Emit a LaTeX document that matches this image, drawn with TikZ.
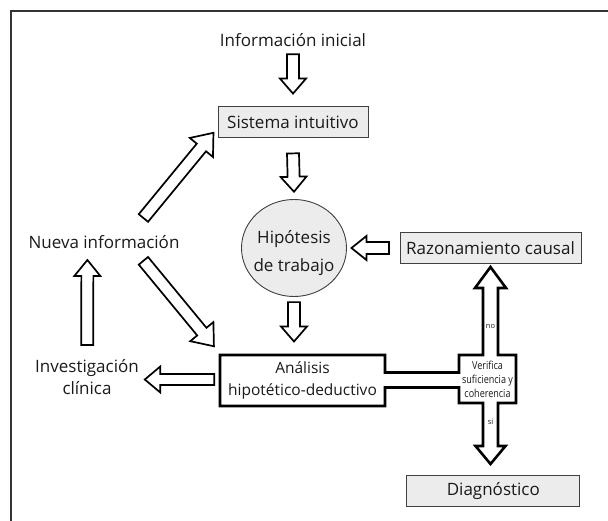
\documentclass[tikz,border=0pt]{standalone}
\usepackage{fontspec}
\setmainfont{Open Sans}
\usetikzlibrary{calc,shapes.geometric}
\definecolor{boxfill}{HTML}{ECECEC}
\definecolor{txt}{HTML}{1A1A1A}
\newcommand\fsz[2]{\fontsize{#1}{#2}\selectfont}
% hollow block arrow: #1 start, #2 end, #3 half shaft, #4 half head, #5 head length
\newcommand\barrow[5]{%
  \path let \p1=(#1), \p2=(#2),
    \n1={atan2(\y2-\y1,\x2-\x1)}, \n2={veclen(\x2-\x1,\y2-\y1)} in
    \pgfextra{\xdef\baang{\n1}\xdef\balen{\n2}\xdef\bax{\x1}\xdef\bay{\y1}};
  \draw[blk,shift={(\bax,\bay)},rotate=\baang]
    (0pt,-#3pt) -- (\balen-#5pt,-#3pt) -- (\balen-#5pt,-#4pt) -- (\balen,0pt)
    -- (\balen-#5pt,#4pt) -- (\balen-#5pt,#3pt) -- (0pt,#3pt) -- cycle;}
\tikzset{
  blk/.style={draw=black, line width=1.7pt, fill=white, line join=miter},
  graybox/.style={draw=black!75, line width=0.9pt, fill=boxfill, inner sep=0pt,
    minimum height=30.5pt, text=txt, font=\fsz{17}{20}},
  label/.style={text=txt, font=\fsz{17}{22}, align=center, inner sep=0pt},
  tiny/.style={text=txt, font=\fsz{7.5}{8}, inner sep=0pt},
}
\begin{document}
\begin{tikzpicture}[x=1pt,y=-1pt]
\useasboundingbox (0,0) rectangle (608,521);
\fill[white] (0,0) rectangle (608,521);
% frame (top and left sides)
\draw[black!80, line width=1.3pt] (11,521) -- (11,11) -- (608,11);

% nodes
\node[label] (info) at (293,40) {Información inicial};
\node[graybox, minimum width=150pt] (sis) at (293,122) {Sistema intuitivo};
\node[ellipse, draw=black!75, line width=0.9pt, fill=boxfill, minimum width=105pt,
  minimum height=97pt, inner sep=0pt] (hyp) at (294,248) {};
\node[label, font=\fsz{17}{28}] (hyptxt) at (294,253) {Hipótesis\\de trabajo};
\node[graybox, minimum width=181pt] (raz) at (490.5,248) {Razonamiento causal};
\node[graybox, minimum width=173pt, minimum height=31.5pt] (diag) at (493.3,490.8) {Diagnóstico};
\node[label] (nueva) at (104,241.7) {Nueva información};
\node[label] (inv) at (87,377.5) {Investigación\\clínica};

% composite outline: Análisis box + channel + Verifica box + no/si arrows
\draw[black, line width=2.6pt, fill=white, line join=miter]
  (220,355) -- (385,355) -- (385,372.5) -- (459,372.5) -- (459,355)
  -- (483,355) -- (483,288) -- (475,288) -- (490.5,267) -- (506,288) -- (498,288)
  -- (498,355) -- (516,355) -- (516,403) -- (498,403) -- (498,446) -- (505.5,446)
  -- (490.5,464) -- (475.5,446) -- (483,446) -- (483,403) -- (459,403)
  -- (459,387.5) -- (385,387.5) -- (385,406) -- (220,406) -- cycle;
\node[label, font=\fsz{15.5}{22}, minimum width=165pt, minimum height=51pt] (ana) at (302.5,380.5)
  {Análisis\\hipotético-deductivo};
\node[text=txt, font=\fsz{11}{14}, align=center, inner sep=0pt, xscale=0.82] (ver) at (487.5,379.5)
  {Verifica\\suficiencia y\\coherencia};
\node[tiny] (no) at (490.5,326.7) {no};
\node[tiny] (si) at (490.5,421.7) {si};

% block arrows
\barrow{$(sis.north)+(0,-52)$}{$(sis.north)+(0,-12.7)$}{6}{13}{15}
\barrow{$(sis.south)+(0,15.7)$}{$(hyp.north)+(0,-7.3)$}{6}{13}{15}
\barrow{$(hyp.south)+(0,5.2)$}{$(hyp.south |- ana.north)+(0,-13.3)$}{6}{13}{15}
\barrow{$(raz.west)+(-10.5,0)$}{$(hyp.east)+(4.5,0)$}{6}{12}{15}
\barrow{$(ana.west)+(-5.5,-1)$}{$(ana.west)+(-75,-1)$}{5.5}{13}{15.5}
\barrow{$(inv.center)+(0.2,-32.5)$}{$(nueva.center)+(-16.6,18.3)$}{6}{13}{16}
\barrow{$(nueva.center)+(39.4,-23.7)$}{$(sis.south west)+(-4,-5)$}{6}{15}{19}
\barrow{$(nueva.center)+(39.4,19.1)$}{$(ana.north west)+(-5.7,-8.3)$}{6}{15}{19}
\end{tikzpicture}
\end{document}
